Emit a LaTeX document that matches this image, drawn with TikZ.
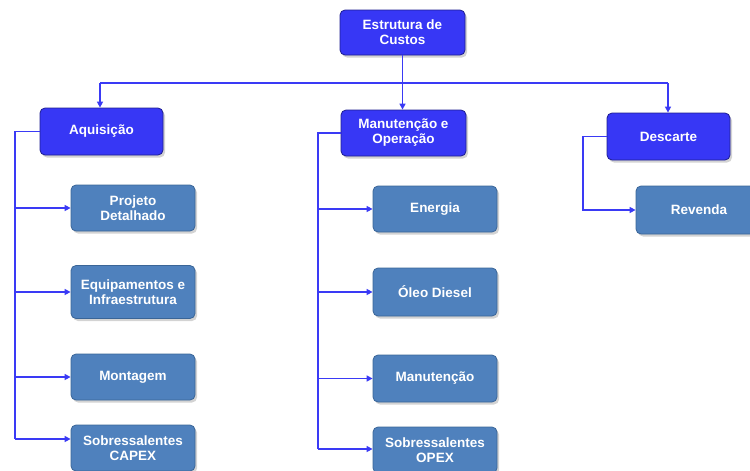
\documentclass[tikz,border=0pt]{standalone}
\usepackage{fontspec}
\setmainfont{Liberation Sans}
\usetikzlibrary{shadows,arrows.meta}
\definecolor{topblue}{HTML}{3737F5}
\definecolor{topedge}{HTML}{1E1E90}
\definecolor{subblue}{HTML}{4F81BD}
\definecolor{subedge}{HTML}{3A6597}
\definecolor{linkblue}{HTML}{3A3AF5}
\tikzset{
  base/.style={rounded corners=5pt, minimum width=124pt, minimum height=46pt,
    text=white, font=\fontsize{13.5}{15}\selectfont\bfseries, align=center, inner sep=1pt,
    drop shadow={shadow xshift=2pt, shadow yshift=-2.5pt, opacity=0.35}},
  topbox/.style={base, fill=topblue, draw=topedge, line width=0.8pt},
  subbox/.style={base, fill=subblue, draw=subedge, line width=0.8pt},
  link/.style={draw=linkblue, line width=1.5pt},
  arr/.style={link, -{Triangle[length=6pt,width=6pt]}}
}
\begin{document}
\begin{tikzpicture}[x=1pt,y=-1pt]
\path[use as bounding box] (0,0) rectangle (750,471);
\begin{scope}
\clip (0,0) rectangle (750,471);
\node[topbox, minimum width=125pt, minimum height=45pt] (root) at (402.5,32.5) {Estrutura de\\Custos};
\node[topbox, minimum width=123pt, minimum height=47pt] (aq) at (101.5,131.5) {Aquisição};
\node[topbox, minimum width=125pt] (mo) at (403.5,133) {Manutenção e\\Operação};
\node[topbox, minimum width=123pt, minimum height=47pt] (de) at (668.5,136.5) {Descarte};

\node[subbox] (pd) at (133,208) {Projeto\\Detalhado};
\node[subbox, minimum height=53pt] (ei) at (133,292) {Equipamentos e\\Infraestrutura};
\node[subbox] (mt) at (133,377) {Montagem};
\node[subbox] (sc) at (133,448) {Sobressalentes\\CAPEX};

\node[subbox] (en) at (435,209) {Energia};
\node[subbox, minimum height=48pt] (od) at (435,292) {Óleo Diesel};
\node[subbox, minimum height=47pt] (mn) at (435,378.5) {Manutenção};
\node[subbox] (so) at (435,450) {Sobressalentes\\OPEX};

\node[subbox, minimum width=126pt, minimum height=48pt] (rv) at (699,210) {Revenda};
\end{scope}

\coordinate (hb) at (402.5,83);
\coordinate (hl) at (100,83);
\coordinate (hr) at (668,83);
\draw[link] (root.south) -- (hb);
\draw[link] (hl) -- (hr);
\draw[arr] (hl) -- (hl |- aq.north);
\draw[arr] (hb) -- (hb |- mo.north);
\draw[arr] (hr) -- (hr |- de.north);

\coordinate (lv) at (15,131.5);
\coordinate (lb) at (15,439);
\coordinate (mv) at (318,133);
\coordinate (mb) at (318,449);
\coordinate (rvx) at (583,136.5);
\draw[link] (aq.west) -- (lv) -- (lb);
\draw[arr] (lv |- pd.west) -- (pd.west);
\draw[arr] (lv |- ei.west) -- (ei.west);
\draw[arr] (lv |- mt.west) -- (mt.west);
\draw[arr] (lb) -- (sc.west |- lb);

\draw[link] (mo.west) -- (mv) -- (mb);
\draw[arr] (mv |- en.west) -- (en.west);
\draw[arr] (mv |- od.west) -- (od.west);
\draw[arr] (mv |- mn.west) -- (mn.west);
\draw[arr] (mb) -- (so.west |- mb);

\draw[arr] (de.west) -- (rvx) -- (rvx |- rv.west) -- (rv.west);
\end{tikzpicture}
\end{document}
